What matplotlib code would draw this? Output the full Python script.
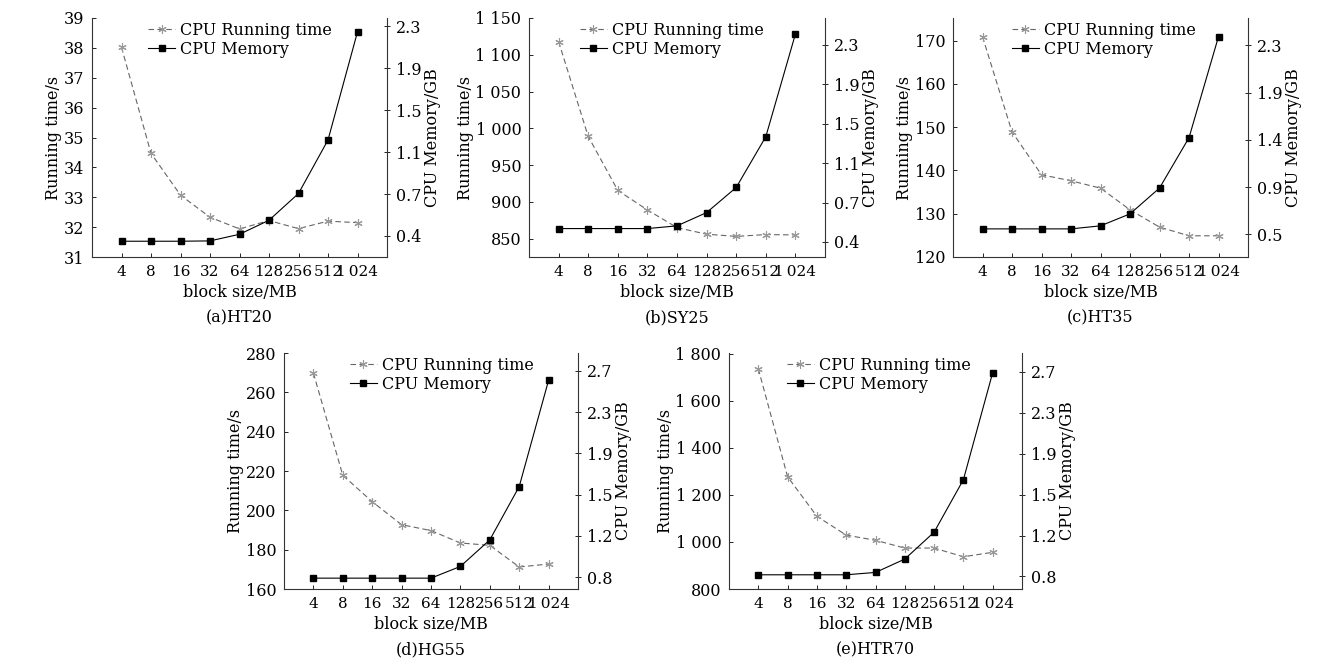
import matplotlib
matplotlib.use('Agg')
import matplotlib.pyplot as plt
import numpy as np

plt.rcParams['font.family'] = ['DejaVu Serif']
plt.rcParams['font.size'] = 11.5

block_sizes = ["4", "8", "16", "32", "64", "128", "256", "512", "1\u2009024"]

# running time in s, one list per dataset
time_ht20 = [38.02, 34.47, 33.07, 32.33, 31.94, 32.22, 31.95, 32.20, 32.15]
time_sy25 = [1118, 989, 915.5, 889, 865, 856, 853, 855.5, 855]
time_ht35 = [170.9, 148.9, 139.0, 137.6, 135.9, 130.9, 126.9, 124.9, 124.9]
time_hg55 = [269.8, 217.8, 204.4, 192.7, 189.7, 183.4, 182.2, 171.2, 172.7]
time_htr70 = [1736, 1277, 1109, 1029, 1007, 974, 974, 937, 956]

# CPU memory in GB
mem_ht20 = [0.352, 0.352, 0.352, 0.355, 0.415, 0.542, 0.785, 1.27, 2.25]
mem_sy25 = [0.529, 0.529, 0.529, 0.529, 0.555, 0.683, 0.925, 1.414, 2.403]
mem_ht35 = [0.551, 0.551, 0.551, 0.551, 0.58, 0.694, 0.94, 1.42, 2.383]
mem_hg55 = [0.79, 0.79, 0.79, 0.79, 0.79, 0.898, 1.143, 1.634, 2.614]
mem_htr70 = [0.815, 0.815, 0.815, 0.815, 0.837, 0.961, 1.211, 1.699, 2.694]

titles = ["(a)HT20", "(b)SY25", "(c)HT35", "(d)HG55", "(e)HTR70"]

left_ticks = [
    [31, 32, 33, 34, 35, 36, 37, 38, 39],
    [850, 900, 950, 1000, 1050, 1100, 1150],
    [120, 130, 140, 150, 160, 170],
    [160, 180, 200, 220, 240, 260, 280],
    [800, 1000, 1200, 1400, 1600, 1800],
]
left_labels = [
    ["31", "32", "33", "34", "35", "36", "37", "38", "39"],
    ["850", "900", "950", "1 000", "1 050", "1 100", "1 150"],
    ["120", "130", "140", "150", "160", "170"],
    ["160", "180", "200", "220", "240", "260", "280"],
    ["800", "1 000", "1 200", "1 400", "1 600", "1 800"],
]
left_lims = [(31, 39), (825, 1150), (120, 175.2), (160, 280), (800, 1803)]

right_labels = [
    ["0.4", "0.7", "1.1", "1.5", "1.9", "2.3"],
    ["0.4", "0.7", "1.1", "1.5", "1.9", "2.3"],
    ["0.5", "0.9", "1.4", "1.9", "2.3"],
    ["0.8", "1.2", "1.5", "1.9", "2.3", "2.7"],
    ["0.8", "1.2", "1.5", "1.9", "2.3", "2.7"],
]
right_span = [(0.4, 2.3), (0.4, 2.3), (0.5, 2.3), (0.8, 2.7), (0.8, 2.7)]
right_lims = [(0.209, 2.376), (0.255, 2.558), (0.283, 2.561),
              (0.69, 2.865), (0.683, 2.876)]

times = [time_ht20, time_sy25, time_ht35, time_hg55, time_htr70]
mems = [mem_ht20, mem_sy25, mem_ht35, mem_hg55, mem_htr70]

W, H = 1329, 667
# axes boxes in pixels: left, right, top, bottom
boxes = [(92, 387, 18, 257), (529, 825, 18, 257), (953, 1248, 18, 257),
         (284, 578, 353, 589), (729, 1022, 353, 589)]
# left edge of the legend, axes fraction
legend_x = [0.19, 0.172, 0.199, 0.224, 0.197]

fig = plt.figure(figsize=(W / 100, H / 100), dpi=100)

for i in range(5):
    l, r, t, b = boxes[i]
    ax = fig.add_axes([l / W, 1 - b / H, (r - l) / W, (b - t) / H])
    x = np.arange(len(block_sizes))
    ln1, = ax.plot(x, times[i], linestyle='--', dashes=(5, 3),
                   color='#666666', linewidth=0.8, marker=(6, 2, 0),
                   markersize=6, markerfacecolor='#999999',
                   markeredgecolor='#999999', markeredgewidth=0.8,
                   label='CPU Running time', zorder=2)
    ax.set_xlim(-1, 9)
    ax.set_ylim(left_lims[i])
    ax.set_yticks(left_ticks[i])
    ax.set_yticklabels(left_labels[i])
    ax.set_xticks(x)
    ax.set_xticklabels(block_sizes)
    ax.tick_params(axis='both', direction='in', length=3, width=0.6,
                   labelsize=11.5)
    ax.tick_params(axis='y', pad=5.5)
    ax.tick_params(axis='x', pad=6, labelsize=11)
    for s in ["top", "right"]:
        ax.spines[s].set_visible(False)
    for s in ["left", "bottom"]:
        ax.spines[s].set_linewidth(0.8)
        ax.spines[s].set_color('#333333')
    ax.set_ylabel('Running time/s', fontsize=11.5, labelpad=1)
    ax.set_xlabel('block size/MB', fontsize=11.5, labelpad=3.5)
    ax.text(0.5, -0.256, titles[i], transform=ax.transAxes,
            ha='center', va='center', fontsize=11.5)

    ax2 = ax.twinx()
    ln2, = ax2.plot(x, mems[i], linestyle='-', color='black',
                    linewidth=0.8, marker='s', markersize=4,
                    label='CPU Memory', zorder=3)
    ax2.set_ylim(right_lims[i])
    n = len(right_labels[i])
    ax2.set_yticks(np.linspace(right_span[i][0], right_span[i][1], n))
    ax2.set_yticklabels(right_labels[i])
    ax2.tick_params(axis='y', direction='inout', length=4, width=0.6,
                    labelsize=11.5, pad=4.5)
    for s in ["top", "left", "bottom"]:
        ax2.spines[s].set_visible(False)
    ax2.spines["right"].set_linewidth(0.8)
    ax2.spines["right"].set_color('#333333')
    ax2.set_ylabel('CPU Memory/GB', fontsize=11.5, labelpad=2)

    ax2.legend([ln1, ln2], ['CPU Running time', 'CPU Memory'],
               loc='upper left', bbox_to_anchor=(legend_x[i], 0.985),
               frameon=False, fontsize=11.5, handlelength=1.7,
               handletextpad=0.3, labelspacing=0.15, borderpad=0,
               borderaxespad=0)

fig.savefig('out.png', dpi=100)
plt.close()
